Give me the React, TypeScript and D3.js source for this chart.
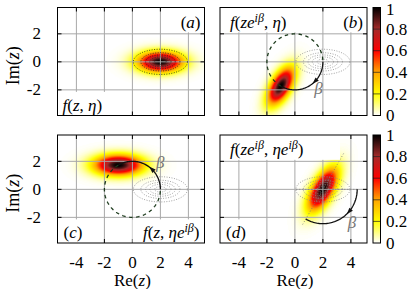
import React, { useMemo } from "react";
import * as d3 from "d3";

// ticks and colour bar
const xTicks = [-4, -2, 0, 2, 4];
const yTicks = [-2, 0, 2];
const cbTicks = [0, 0.2, 0.4, 0.6, 0.8, 1];
const cbLabels = ["0", "0.2", "0.4", "0.6", "0.8", "1"];
const paletteStops = [0, 0.2, 0.4, 0.6, 0.8, 1];
const paletteColors = ["#ffffff", "#ffff00", "#ffa500", "#ff0000", "#a52a2a", "#000000"];

// the distribution in each panel
const betaDeg = 120;
const panelNames = ["(a)", "(b)", "(c)", "(d)"];
const peakRadius = [2, 2, 2, 2];
const peakAngle = [0, -betaDeg, betaDeg, 0];
const tiltAngle = [0, 60, 0, 60];
const sigmaLong = [1.1, 1.0, 1.18, 1.15];
const sigmaShort = [0.5, 0.47, 0.5, 0.5];
// dotted reference contours of f(z, eta)
const contourSigma = [0.9, 0.42];
const contourLevels = [0.1, 0.3, 0.5, 0.7, 0.9];

const W = 415;
const H = 289;
const colX = [[57.5, 204.5], [220, 367]];
const rowY = [[7.5, 115.5], [135, 243]];
const xDomain = [-5.35, 5.15];
const yDomain = [-3.83, 3.88];
const serif = "'Liberation Serif', 'Times New Roman', serif";

const rad = (d: number) => (d * Math.PI) / 180;

const color = d3.scaleLinear<string>()
    .domain(paletteStops)
    .range(paletteColors)
    .interpolate(d3.interpolateRgb)
    .clamp(true);
const lut = d3.range(256).map(i => d3.rgb(color(i / 255)));

function density(i: number, x: number, y: number) {
    const cx = peakRadius[i] * Math.cos(rad(peakAngle[i]));
    const cy = peakRadius[i] * Math.sin(rad(peakAngle[i]));
    const t = rad(tiltAngle[i]);
    const dx = x - cx, dy = y - cy;
    const u = dx * Math.cos(t) + dy * Math.sin(t);
    const v = -dx * Math.sin(t) + dy * Math.cos(t);
    return Math.exp(-0.5 * ((u / sigmaLong[i]) ** 2 + (v / sigmaShort[i]) ** 2));
}

function heatUrl(i: number, xs: any, ys: any) {
    const [x0, x1] = xs.range();
    const [y1, y0] = ys.range();
    const w = Math.round(x1 - x0), h = Math.round(y1 - y0);
    const canvas = document.createElement("canvas");
    canvas.width = w;
    canvas.height = h;
    const ctx = canvas.getContext("2d")!;
    const img = ctx.createImageData(w, h);
    for (let py = 0; py < h; py++) {
        for (let px = 0; px < w; px++) {
            const v = density(i, xs.invert(x0 + px + 0.5), ys.invert(y0 + py + 0.5));
            const c = lut[Math.round(Math.min(1, v) * 255)];
            const k = (py * w + px) * 4;
            img.data[k] = c.r;
            img.data[k + 1] = c.g;
            img.data[k + 2] = c.b;
            img.data[k + 3] = 255;
        }
    }
    ctx.putImageData(img, 0, 0);
    return canvas.toDataURL();
}

type Seg = [string, boolean, boolean?];

const MathText = ({ x, y, anchor, segs, size = 17 }: any) => {
    let prevSup = false;
    return (
        <text x={x} y={y} textAnchor={anchor} fontSize={size} fontFamily={serif}>
            {segs.map(([t, it, sup]: Seg, k: number) => {
                const dy = sup && !prevSup ? -6 : !sup && prevSup ? 6 : 0;
                prevSup = !!sup;
                return (
                    <tspan key={k} dy={dy || undefined} fontStyle={it ? "italic" : "normal"} fontSize={sup ? 12 : undefined}>
                        {t}
                    </tspan>
                );
            })}
        </text>
    );
};

const funcLabels: Seg[][] = [
    [["f", true], ["(", false], ["z", true], [", ", false], ["η", true], [")", false]],
    [["f", true], ["(", false], ["ze", true], ["iβ", true, true], [", ", false], ["η", true], [")", false]],
    [["f", true], ["(", false], ["z", true], [", ", false], ["ηe", true], ["iβ", true, true], [")", false]],
    [["f", true], ["(", false], ["ze", true], ["iβ", true, true], [", ", false], ["ηe", true], ["iβ", true, true], [")", false]],
];

// where the labels sit: top/bottom, left/right, box width
const funcPlace = [
    { top: false, left: true, w: 57 },
    { top: true, left: true, w: 80 },
    { top: false, left: false, w: 72 },
    { top: true, left: true, w: 120 },
];
const namePlace = [
    { top: true, left: false },
    { top: true, left: false },
    { top: false, left: true },
    { top: false, left: true },
];

// rotation arcs
const arcs: any[] = [
    null,
    { cx: 0, cy: 0, r: 2, from: 0, to: -betaDeg, dashed: true, arrowAt: -44, lab: [1.68, -1.9] },
    { cx: 0, cy: 0, r: 2, from: 0, to: betaDeg, dashed: true, arrowAt: 46, lab: [1.98, 1.98] },
    { cx: 2, cy: 0, r: 2.45, from: 0, to: -betaDeg, dashed: false, arrowAt: -40, lab: [4.08, -2.3] },
];

const App = () => {
    const panels = useMemo(() => d3.range(4).map(i => {
        const col = i % 2, row = Math.floor(i / 2);
        const xs = d3.scaleLinear().domain(xDomain).range(colX[col]);
        const ys = d3.scaleLinear().domain(yDomain).range([rowY[row][1], rowY[row][0]]);
        return { i, col, row, xs, ys, url: heatUrl(i, xs, ys) };
    }), []);

    const line = (xs: any, ys: any) => d3.line<number[]>().x(d => xs(d[0])).y(d => ys(d[1]));

    return (
        <svg width={W} height={H} style={{ position: "absolute", left: 0, top: 0, background: "#fff" }} fontFamily={serif}>
            <defs>
                <linearGradient id="cb" x1="0" y1="1" x2="0" y2="0">
                    {paletteStops.map((s, k) => <stop key={k} offset={s} stopColor={paletteColors[k]} />)}
                </linearGradient>
            </defs>
            {panels.map(({ i, col, row, xs, ys, url }) => {
                const [x0, x1] = xs.range();
                const [y1, y0] = ys.range();
                const ln = line(xs, ys);
                const c0 = d3.range(0, 361, 4);
                const contours = contourLevels.map(L => {
                    const r = Math.sqrt(-2 * Math.log(L));
                    return ln(c0.map(a => [peakRadius[0] + r * contourSigma[0] * Math.cos(rad(a)), r * contourSigma[1] * Math.sin(rad(a))]));
                });
                const arc = arcs[i];
                let solid = null, dashed = null, arrow = null, betaLab = null;
                if (arc) {
                    const pt = (a: number) => [arc.cx + arc.r * Math.cos(rad(a)), arc.cy + arc.r * Math.sin(rad(a))];
                    const s = Math.sign(arc.to - arc.from);
                    solid = ln(d3.range(0, 61).map(k => pt(arc.from + (arc.to - arc.from) * k / 60)));
                    if (arc.dashed) {
                        const end = arc.from + 360 * s;
                        dashed = ln(d3.range(0, 91).map(k => pt(arc.to + (end - arc.to) * k / 90)));
                    }
                    const p = pt(arc.arrowAt), q = pt(arc.arrowAt + s * 2);
                    const px = xs(p[0]), py = ys(p[1]);
                    let dx = xs(q[0]) - px, dy = ys(q[1]) - py;
                    const n = Math.hypot(dx, dy);
                    dx /= n; dy /= n;
                    const tip = [px + dx * 3.5, py + dy * 3.5];
                    const b1 = [px - dx * 3 - dy * 2.3, py - dy * 3 + dx * 2.3];
                    const b2 = [px - dx * 3 + dy * 2.3, py - dy * 3 - dx * 2.3];
                    arrow = `M${tip}L${b1}L${b2}Z`;
                    betaLab = [xs(arc.lab[0]), ys(arc.lab[1])];
                }
                const fp = funcPlace[i], np = namePlace[i];
                const gridTop = ys(yTicks[yTicks.length - 1]) - 1.5;
                const gridBot = ys(yTicks[0]) + 2;
                return (
                    <g key={i}>
                        <clipPath id={"clip" + i}>
                            <rect x={x0} y={y0} width={x1 - x0} height={y1 - y0} />
                        </clipPath>
                        <image href={url} x={x0} y={y0} width={x1 - x0} height={y1 - y0} preserveAspectRatio="none" />
                        {/* grid */}
                        <g stroke="#a8a8a8" strokeWidth={1}>
                            {xTicks.map(t => <line key={"gx" + t} x1={xs(t)} x2={xs(t)} y1={y0} y2={y1} />)}
                            {yTicks.map(t => <line key={"gy" + t} y1={ys(t)} y2={ys(t)} x1={x0} x2={x1} />)}
                        </g>
                        <g clipPath={`url(#clip${i})`}>
                            {contours.map((d, k) => (
                                <path key={k} d={d!} fill="none" stroke={i === 0 ? "#222" : "#8a8a8a"} strokeWidth={0.8} strokeDasharray="1,1.5" />
                            ))}
                            {i === 3 && (
                                <g stroke="#777" strokeWidth={0.8} strokeDasharray="1,2" fill="none">
                                    <path d={ln([[2 - 1.9, 0], [2 + 2.45, 0]])!} />
                                    <path d={ln([[2 - 2.9 * Math.cos(rad(60)), -2.9 * Math.sin(rad(60))], [2 + 3.0 * Math.cos(rad(60)), 3.0 * Math.sin(rad(60))]])!} />
                                </g>
                            )}
                            {dashed && <path d={dashed} fill="none" stroke="#1c3a1c" strokeWidth={1.3} strokeDasharray="3.5,3.5" />}
                            {solid && <path d={solid} fill="none" stroke="#111" strokeWidth={1.3} />}
                            {arrow && <path d={arrow} fill="#111" />}
                        </g>
                        {betaLab && (
                            <text x={betaLab[0]} y={betaLab[1]} dy="0.35em" textAnchor="middle" fontSize={17} fontStyle="italic" fill="#777">β</text>
                        )}
                        {/* ticks */}
                        <g stroke="#000" strokeWidth={1}>
                            {xTicks.map(t => <line key={"tb" + t} x1={xs(t)} x2={xs(t)} y1={y1} y2={y1 - 4} />)}
                            {xTicks.map(t => <line key={"tt" + t} x1={xs(t)} x2={xs(t)} y1={y0} y2={y0 + 4} />)}
                            {yTicks.map(t => <line key={"tl" + t} y1={ys(t)} y2={ys(t)} x1={x0} x2={x0 + 4} />)}
                            {yTicks.map(t => <line key={"tr" + t} y1={ys(t)} y2={ys(t)} x1={x1} x2={x1 - 4} />)}
                        </g>
                        {/* label boxes */}
                        <rect
                            x={fp.left ? x0 : x1 - fp.w}
                            y={fp.top ? y0 : gridBot}
                            width={fp.w}
                            height={fp.top ? gridTop - y0 : y1 - gridBot}
                            fill="#fff"
                        />
                        <MathText
                            x={fp.left ? x0 + (fp.top ? 10 : 5) : x1 - 5}
                            y={fp.top ? y0 + 20 : y1 - 5}
                            anchor={fp.left ? "start" : "end"}
                            segs={funcLabels[i]}
                        />
                        <rect
                            x={np.left ? x0 : x1 - 27}
                            y={np.top ? y0 : gridBot}
                            width={27}
                            height={np.top ? gridTop - y0 : y1 - gridBot}
                            fill="#fff"
                        />
                        <text
                            x={np.left ? x0 + 6 : x1 - 4}
                            y={np.top ? y0 + 20 : y1 - 5}
                            textAnchor={np.left ? "start" : "end"}
                            fontSize={17}
                        >
                            (<tspan fontStyle="italic">{panelNames[i].slice(1, 2)}</tspan>)
                        </text>
                        <rect x={x0} y={y0} width={x1 - x0} height={y1 - y0} fill="none" stroke="#000" strokeWidth={1} />
                        {/* axis tick labels */}
                        {col === 0 && yTicks.map(t => (
                            <text key={"yl" + t} x={41} y={ys(t)} dy="0.33em" textAnchor="end" fontSize={17}>{t}</text>
                        ))}
                        {col === 0 && (
                            <text transform={`translate(19,${ys(0) + 4}) rotate(-90)`} textAnchor="middle" fontSize={18}>
                                Im(<tspan fontStyle="italic">z</tspan>)
                            </text>
                        )}
                        {row === 1 && xTicks.map(t => (
                            <text key={"xl" + t} x={xs(t)} y={268} textAnchor="middle" fontSize={17}>{t}</text>
                        ))}
                        {row === 1 && (
                            <text x={xs(0)} y={286} textAnchor="middle" fontSize={17}>
                                Re(<tspan fontStyle="italic">z</tspan>)
                            </text>
                        )}
                        {/* colour bar */}
                        {col === 1 && (() => {
                            const cb = d3.scaleLinear().domain([0, 1]).range([y1, y0]);
                            return (
                                <g>
                                    <rect x={373} y={y0} width={7.5} height={y1 - y0} fill="url(#cb)" />
                                    {cbTicks.slice(1, -1).map(t => (
                                        <line key={t} x1={373} x2={380.5} y1={cb(t)} y2={cb(t)} stroke="#222" strokeWidth={0.7} />
                                    ))}
                                    <rect x={373} y={y0} width={7.5} height={y1 - y0} fill="none" stroke="#000" strokeWidth={1} />
                                    {cbTicks.map((t, k) => (
                                        <text key={t} x={386} y={Math.max(cb(t), 9)} dy="0.33em" fontSize={17}>{cbLabels[k]}</text>
                                    ))}
                                </g>
                            );
                        })()}
                    </g>
                );
            })}
        </svg>
    );
};

export default App;
